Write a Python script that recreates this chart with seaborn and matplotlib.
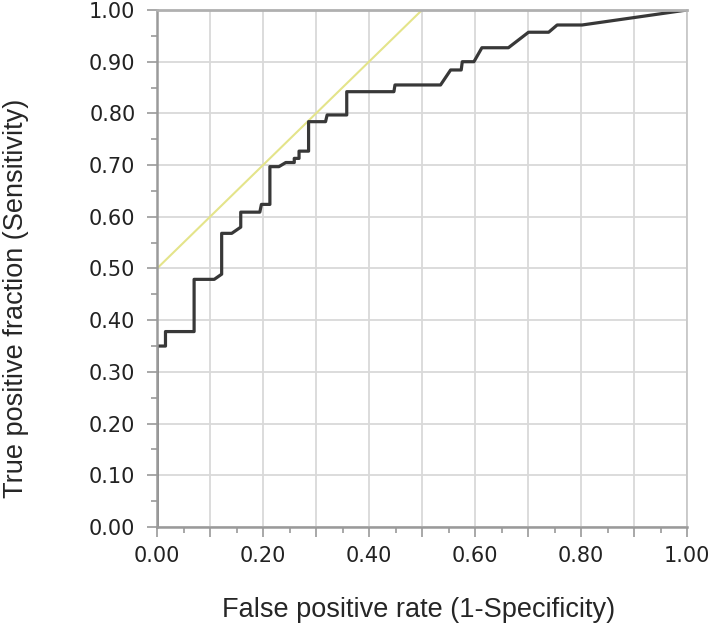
import numpy as np
import pandas as pd
import matplotlib
matplotlib.use("Agg")
import matplotlib.pyplot as plt
from matplotlib.ticker import MultipleLocator, FuncFormatter
import seaborn as sns

# Points de la courbe ROC
fpr = [0.0, 0.0, 0.016, 0.016, 0.070, 0.070, 0.108, 0.122, 0.122, 0.141,
       0.158, 0.158, 0.194, 0.197, 0.213, 0.213, 0.230, 0.243, 0.259, 0.259,
       0.268, 0.268, 0.286, 0.286, 0.318, 0.321, 0.358, 0.358, 0.447, 0.449,
       0.535, 0.554, 0.574, 0.576, 0.598, 0.613, 0.663, 0.701, 0.739, 0.755,
       0.802, 1.0]
tpr = [0.0, 0.350, 0.350, 0.378, 0.378, 0.479, 0.479, 0.489, 0.568, 0.568,
       0.580, 0.609, 0.609, 0.624, 0.624, 0.697, 0.697, 0.705, 0.705, 0.713,
       0.713, 0.727, 0.727, 0.784, 0.784, 0.797, 0.797, 0.842, 0.842, 0.855,
       0.855, 0.884, 0.884, 0.900, 0.900, 0.927, 0.927, 0.957, 0.957, 0.971,
       0.971, 1.0]

# Ligne de référence jaune
ref_x = [0.0, 0.5]
ref_y = [0.5, 1.0]

df_roc = pd.DataFrame({"fpr": fpr, "tpr": tpr})
df_ref = pd.DataFrame({"x": ref_x, "y": ref_y})

sns.set_style("whitegrid")
plt.rcParams['font.family'] = ['DejaVu Sans']

fig = plt.figure(figsize=(7.09, 6.36), dpi=100)
# axes : x 157..687 px, y 10..527 px
ax = fig.add_axes([157 / 709, 1 - 527 / 636, 530 / 709, 517 / 636])

sns.lineplot(data=df_ref, x="x", y="y", ax=ax, color="#e4e48a", linewidth=1.5,
             sort=False, estimator=None)
sns.lineplot(data=df_roc, x="fpr", y="tpr", ax=ax, color="#383838", linewidth=2.3,
             sort=False, estimator=None)

ax.set_xlim(0, 1)
ax.set_ylim(0, 1)
ax.xaxis.set_major_locator(MultipleLocator(0.1))
ax.xaxis.set_minor_locator(MultipleLocator(0.05))
ax.yaxis.set_major_locator(MultipleLocator(0.1))
ax.yaxis.set_minor_locator(MultipleLocator(0.05))
ax.xaxis.set_major_formatter(FuncFormatter(
    lambda v, p: f"{v:.2f}" if round(v * 10) % 2 == 0 else ""))
ax.yaxis.set_major_formatter(FuncFormatter(lambda v, p: f"{v:.2f}"))

ax.grid(False)
ax.grid(True, which='major', color='#d9d9d9', linewidth=1.3)

ax.tick_params(axis='both', which='both', left=True, bottom=True,
               direction='out', color='#9a9a9a', width=1.2)
ax.tick_params(axis='both', which='major', length=7.5, labelsize=15,
               labelcolor='#222222')
ax.tick_params(axis='both', which='minor', length=4)
ax.tick_params(axis='y', which='major', pad=8)
ax.tick_params(axis='x', which='major', pad=6.5)

for side in ['top', 'right']:
    ax.spines[side].set_visible(True)
    ax.spines[side].set_color('#c8c8c8')
    ax.spines[side].set_linewidth(1.3)
ax.spines['top'].set_color('#b0b0b0')
ax.spines['top'].set_linewidth(2)
for side in ['left', 'bottom']:
    ax.spines[side].set_color('#9a9a9a')
    ax.spines[side].set_linewidth(1.8)

ax.set_xlabel("")
ax.set_ylabel("")
fig.text(419 / 709, 1 - 610 / 636, "False positive rate (1-Specificity)",
         fontsize=19.5, family='Liberation Sans', ha='center', va='center')
fig.text(16 / 709, 1 - 298 / 636, "True positive fraction (Sensitivity)",
         fontsize=19.5, family='Liberation Sans', ha='center', va='center',
         rotation=90)

fig.savefig("out.png", dpi=100)
plt.close(fig)
